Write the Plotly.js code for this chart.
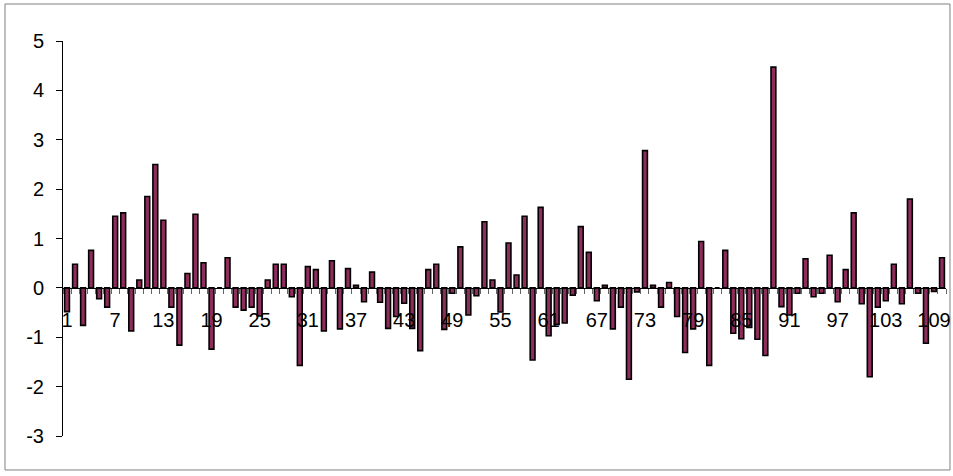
<!DOCTYPE html>
<html>
<head>
<meta charset="utf-8">
<script src="https://cdn.plot.ly/plotly-3.0.1.min.js"></script>
<style>
  html, body { margin: 0; padding: 0; background: #fff; }
  #chart { width: 953px; height: 476px; }
</style>
</head>
<body>
<div id="chart"></div>
<script>
// Categories 1..110
var categories = [
  1,2,3,4,5,6,7,8,9,10,11,12,13,14,15,16,17,18,19,20,
  21,22,23,24,25,26,27,28,29,30,31,32,33,34,35,36,37,38,39,40,
  41,42,43,44,45,46,47,48,49,50,51,52,53,54,55,56,57,58,59,60,
  61,62,63,64,65,66,67,68,69,70,71,72,73,74,75,76,77,78,79,80,
  81,82,83,84,85,86,87,88,89,90,91,92,93,94,95,96,97,98,99,100,
  101,102,103,104,105,106,107,108,109,110
];

// Series values
var values = [
  -0.48, 0.48, -0.76, 0.76, -0.22, -0.39, 1.45, 1.52, -0.87, 0.16,
   1.85, 2.50, 1.37, -0.39, -1.16, 0.29, 1.49, 0.51, -1.24, 0.00,
   0.61, -0.39, -0.45, -0.39, -0.57, 0.16, 0.48, 0.48, -0.18, -1.57,
   0.43, 0.37, -0.87, 0.55, -0.83, 0.39, 0.05, -0.28, 0.32, -0.29,
  -0.82, -0.58, -0.31, -0.82, -1.27, 0.37, 0.48, -0.84, -0.11, 0.83,
  -0.55, -0.16, 1.34, 0.16, -0.49, 0.91, 0.26, 1.45, -1.46, 1.63,
  -0.97, -0.74, -0.71, -0.15, 1.24, 0.72, -0.26, 0.05, -0.83, -0.39,
  -1.85, -0.08, 2.78, 0.05, -0.39, 0.11, -0.58, -1.31, -0.83, 0.94,
  -1.57, 0.00, 0.76, -0.92, -1.03, -0.80, -1.04, -1.37, 4.47, -0.38,
  -0.55, -0.11, 0.59, -0.18, -0.11, 0.66, -0.28, 0.37, 1.52, -0.32,
  -1.80, -0.39, -0.26, 0.48, -0.32, 1.80, -0.11, -1.12, -0.07, 0.61
];

// Tick labels shown on the category axis
var tickPositions = [1, 7, 13, 19, 25, 31, 37, 43, 49, 55, 61, 67, 73, 79, 85, 91, 97, 103, 109];
var tickLabels = ["1","7","13","19","25","31","37","43","49","55","61","67","73","79","85","91","97","103","109"];

// y-axis ticks
var yTickVals = [-3, -2, -1, 0, 1, 2, 3, 4, 5];
var yTickText = ["-3", "-2", "-1", "0", "1", "2", "3", "4", "5"];

// category boundaries for the small tick marks
var boundaries = categories.map(function (c) { return c - 0.5; }).concat([categories.length + 0.5]);

var font = "Liberation Sans, Arial, sans-serif";

var trace = {
  type: "bar",
  x: categories,
  y: values,
  marker: { color: "#8E2C5C", line: { color: "#000000", width: 1.6 } },
  hoverinfo: "x+y"
};

var layout = {
  width: 953,
  height: 476,
  margin: { l: 63, r: 7, t: 41, b: 40, pad: 0 },
  paper_bgcolor: "#ffffff",
  plot_bgcolor: "#ffffff",
  showlegend: false,
  bargap: 0.4,
  font: { family: font, size: 20, color: "#000" },
  xaxis: {
    type: "linear",
    range: [0.5, 110.5],
    anchor: "free",
    position: 0.375,
    tickmode: "array",
    tickvals: tickPositions,
    ticktext: tickLabels,
    ticks: "",
    ticklabelstandoff: 14,
    tickfont: { family: font, size: 20, color: "#000" },
    showline: true,
    linecolor: "#000",
    linewidth: 1,
    showgrid: false,
    zeroline: false,
    minor: {
      tickmode: "array",
      tickvals: boundaries,
      ticks: "outside",
      ticklen: 5,
      tickcolor: "#666",
      tickwidth: 1,
      showgrid: false
    }
  },
  yaxis: {
    range: [-3, 5],
    tickmode: "array",
    tickvals: yTickVals,
    ticktext: yTickText,
    ticks: "outside",
    ticklen: 6,
    tickcolor: "#000",
    tickwidth: 1,
    ticklabelstandoff: 8,
    tickfont: { family: font, size: 20, color: "#000" },
    showline: true,
    linecolor: "#000",
    linewidth: 1,
    showgrid: false,
    zeroline: false
  },
  shapes: [{
    type: "rect",
    xref: "paper", yref: "paper",
    x0: -0.0657, x1: 1.0045, y0: -0.086, y1: 1.0937,
    line: { color: "#808080", width: 1 },
    fillcolor: "rgba(0,0,0,0)",
    layer: "below"
  }]
};

Plotly.newPlot("chart", [trace], layout, { displayModeBar: false, staticPlot: true });
</script>
</body>
</html>
